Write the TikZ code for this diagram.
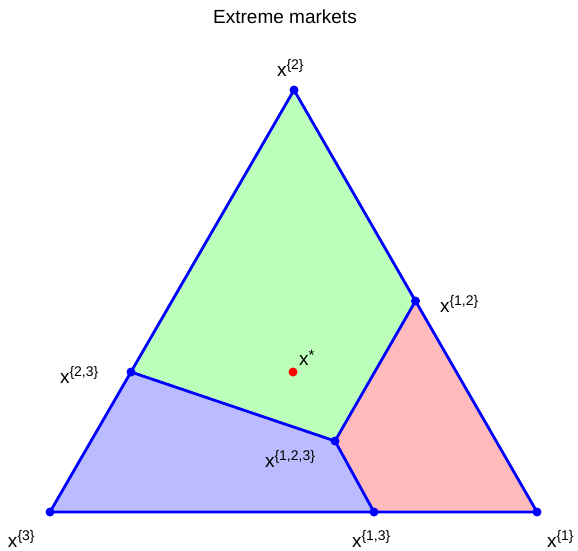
\documentclass[tikz,border=0pt]{standalone}
\usepackage{fontspec}
\setmainfont{Liberation Sans}
\definecolor{gfill}{RGB}{187,255,187}
\definecolor{rfill}{RGB}{255,187,187}
\definecolor{bfill}{RGB}{187,187,255}
\definecolor{edgeblue}{RGB}{0,0,255}
\newcommand{\lbl}[1]{{\fontsize{19}{19}\selectfont x}\raisebox{7pt}{\fontsize{14}{14}\selectfont #1}}
\tikzset{
  lab/.style={anchor=base west, inner sep=0pt, outer sep=0pt},
  edge/.style={draw=edgeblue, line width=2.8pt, line join=round, line cap=round},
  dot/.style={fill=edgeblue, circle, inner sep=0pt, minimum size=9pt},
}
\begin{document}
\begin{tikzpicture}[x=1pt,y=-1pt]
\useasboundingbox (0,0) rectangle (578,550);
\fill[white] (0,0) rectangle (578,550);
\coordinate (x1) at (537,512);
\coordinate (x2) at (294,90);
\coordinate (x3) at (50,512);
\coordinate (x12) at (415.5,301);
\coordinate (x23) at (131,372);
\coordinate (x13) at (374,512);
\coordinate (x123) at (335,441);
\fill[gfill] (x2) -- (x12) -- (x123) -- (x23) -- cycle;
\fill[rfill] (x12) -- (x1) -- (x13) -- (x123) -- cycle;
\fill[bfill] (x23) -- (x123) -- (x13) -- (x3) -- cycle;
\draw[edge] (x1) -- (x2) -- (x3) -- cycle;
\draw[edge] (x23) -- (x123) -- (x12);
\draw[edge] (x123) -- (x13);
\foreach \p in {x1,x2,x3,x12,x23,x13,x123} \node[dot] at (\p) {};
\node[circle, fill=red, inner sep=0pt, minimum size=9pt] (xs) at (293,372) {};
\node[anchor=center, inner sep=0pt] (title) at (285,17) {\fontsize{19}{19}\selectfont Extreme markets};
\node[lab] (l2) at (277,76) {\lbl{\{2\}}};
\node[lab] (l3) at (8,547) {\lbl{\{3\}}};
\node[lab] (l1) at (547,547) {\lbl{\{1\}}};
\node[lab] (l13) at (352,547) {\lbl{\{1,3\}}};
\node[lab] (l123) at (265,467) {\lbl{\{1,2,3\}}};
\node[lab] (l23) at (60,383) {\lbl{\{2,3\}}};
\node[lab] (l12) at (440,312) {\lbl{\{1,2\}}};
\node[lab] (ls) at (299,365) {{\fontsize{19}{19}\selectfont x}\raisebox{5pt}{\fontsize{15}{15}\selectfont *}};
\end{tikzpicture}
\end{document}
